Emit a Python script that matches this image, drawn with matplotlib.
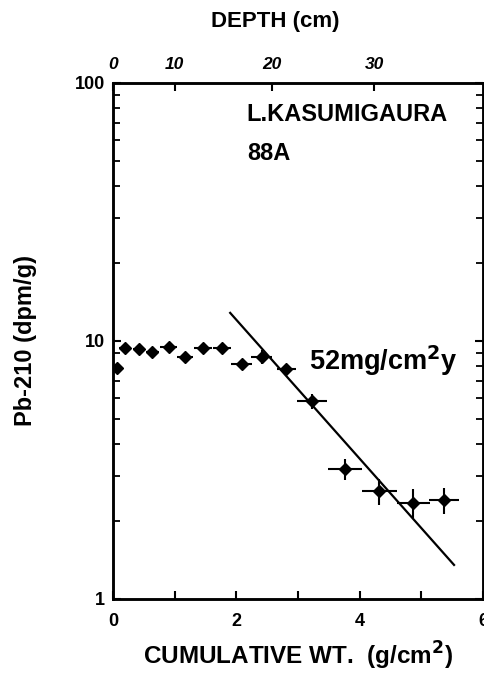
import matplotlib
matplotlib.use('Agg')
import matplotlib.pyplot as plt

plt.rcParams['font.family'] = ['Liberation Sans', 'DejaVu Sans']
plt.rcParams['font.weight'] = 'bold'

# cumulative weight (g/cm2) and Pb-210 activity (dpm/g)
cum_wt = [0.06, 0.19, 0.42, 0.64, 0.90, 1.17, 1.46, 1.77, 2.09, 2.41,
          2.81, 3.23, 3.76, 4.32, 4.87, 5.37]
pb210 = [7.85, 9.4, 9.3, 9.05, 9.5, 8.7, 9.4, 9.4, 8.15, 8.7,
         7.8, 5.85, 3.2, 2.62, 2.36, 2.42]
x_err = [0.05, 0.1, 0.1, 0.1, 0.13, 0.13, 0.15, 0.15, 0.17, 0.17,
         0.15, 0.24, 0.28, 0.28, 0.27, 0.24]
y_err = [0, 0, 0, 0, 0, 0, 0, 0, 0, 0.55,
         0, 0.4, 0.3, 0.3, 0.3, 0.28]

# fitted line ends
fit_x = [1.9, 5.53]
fit_y = [12.85, 1.355]

# depth axis
depth_labels = ['0', '10', '20', '30']
depth_pos = [0.0, 1.0, 2.57, 4.24]

fig = plt.figure(figsize=(4.84, 6.73), dpi=100)
ax = fig.add_axes([0.2335, 0.110, 0.7645, 0.7667])

ax.errorbar(cum_wt, pb210, xerr=x_err, yerr=y_err, fmt='D', color='black',
            ms=6, elinewidth=1.5, capsize=0)
ax.plot(fit_x, fit_y, color='black', lw=1.6)

ax.set_yscale('log')
ax.set_xlim(0, 6)
ax.set_ylim(1, 100)

ax.set_xticks(range(7))
ax.set_xticklabels(['0', '', '2', '', '4', '', '6'], fontsize=13, fontweight='bold')
ax.set_yticks([1, 10, 100])
ax.set_yticklabels(['1', '10', '100'], fontsize=13, fontweight='bold')
ax.tick_params(axis='both', which='major', direction='in', length=6, width=1.5)
ax.tick_params(axis='y', which='both', right=True, direction='in')
ax.tick_params(axis='y', which='minor', length=5, width=1.3)
ax.tick_params(axis='y', which='minor', labelleft=False)
ax.tick_params(axis='x', pad=10)
ax.tick_params(axis='y', pad=6)
for s in ax.spines.values():
    s.set_linewidth(1.8)

ax.set_xlabel('CUMULATIVE WT.  (g/cm$^{\\mathbf{2}}$)', fontsize=17.5,
              fontweight='bold', labelpad=7)
ax.set_ylabel('Pb-210 (dpm/g)', fontsize=17, fontweight='bold', labelpad=27)

top = ax.twiny()
top.set_xlim(ax.get_xlim())
top.set_xticks(depth_pos)
top.set_xticklabels(depth_labels, fontsize=12.5, fontweight='bold', style='italic')
top.tick_params(axis='x', direction='in', length=6, width=1.5, pad=8)
for s in top.spines.values():
    s.set_linewidth(1.8)

fig.text(275 / 484, 1 - 21 / 673, 'DEPTH (cm)', fontsize=16, fontweight='bold',
         ha='center', va='center')

ax.text(2.17, 75.8, 'L.KASUMIGAURA', fontsize=17, fontweight='bold', va='center')
ax.text(2.17, 53.4, '88A', fontsize=17, fontweight='bold', va='center')
ax.text(3.17, 7.73, '52mg/cm$^{\\mathbf{2}}$y', fontsize=19.5, fontweight='bold',
        va='baseline')

fig.savefig('out.png', dpi=100)
